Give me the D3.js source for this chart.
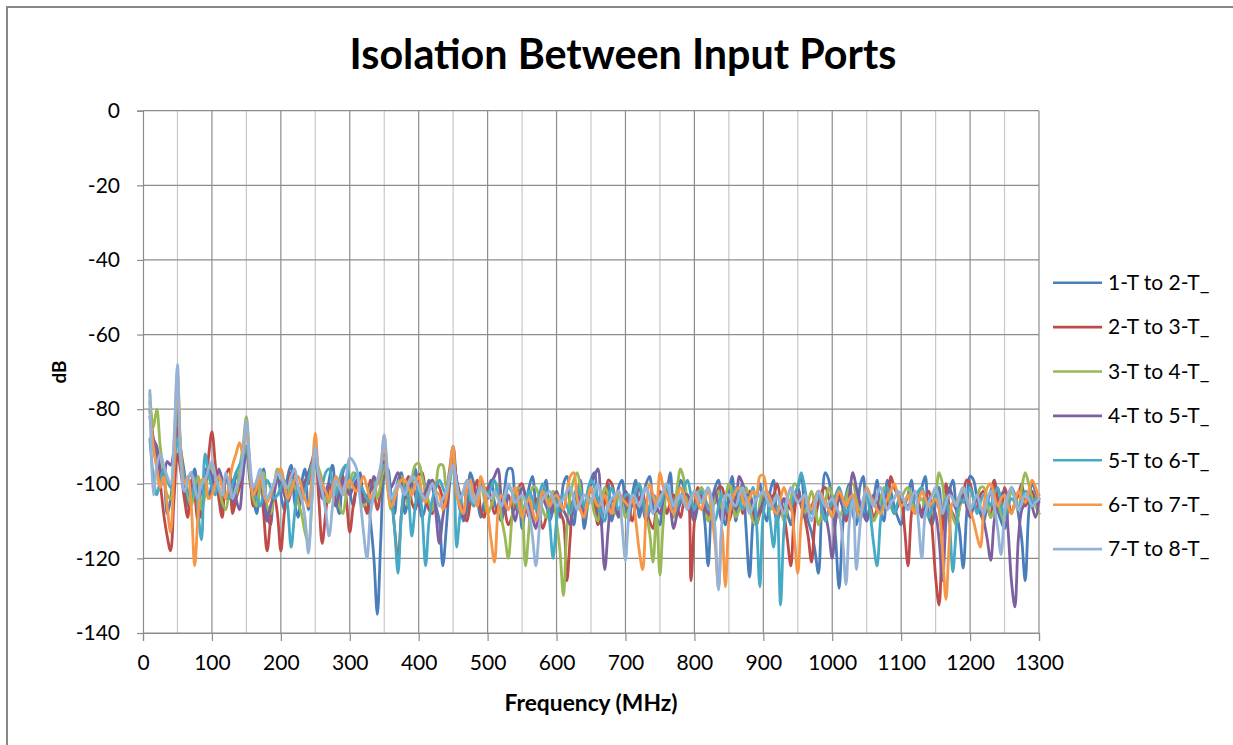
<!DOCTYPE html>
<html><head><meta charset="utf-8">
<script src="https://cdn.jsdelivr.net/npm/d3@7"></script>
<style>body{margin:0;background:#fff}svg{display:block}</style>
</head><body>
<script>
const title = "Isolation Between Input Ports";
const xTitle = "Frequency (MHz)";
const yTitle = "dB";
const seriesNames = ["1-T to 2-T_","2-T to 3-T_","3-T to 4-T_","4-T to 5-T_","5-T to 6-T_","6-T to 7-T_","7-T to 8-T_"];
const seriesColors = ["#4A7EBB","#BE4B48","#98B954","#7D60A0","#46AAC5","#F79646","#95B3D7"];
const xTicks = [0,100,200,300,400,500,600,700,800,900,1000,1100,1200,1300];
const yTicks = [0,-20,-40,-60,-80,-100,-120,-140];
// frequencies: 5 MHz steps, 10..1300 (first row 10..100, then 105..200, ...)
const freqs = d3.range(10, 1301, 5);

const s1 = [
-78,-88,-92,-101,-98,-108,-104,-95,-80,-91,-97,-106,-101,-96,-105,-109,-96,-104,-100,
-97,-103,-107,-98,-101,-106,-97,-100,-96,-90,-99,-104,-108,-99,-96,-108,-111,-101,-98,-103,
-107,-98,-95,-105,-109,-100,-96,-107,-101,-92,-97,-101,-106,-99,-95,-104,-108,-97,-95,-102,
-106,-100,-97,-106,-103,-110,-120,-135,-115,-98,-96,-103,-108,-99,-97,-108,-104,-100,-96,-104,
-109,-106,-99,-101,-106,-110,-122,-112,-100,-94,-99,-103,-110,-107,-97,-100,-104,-109,-105,-102,
-99,-105,-108,-110,-101,-96,-96,-107,-103,-112,-106,-101,-98,-106,-110,-103,-99,-110,-107,-104,
-109,-100,-98,-107,-111,-103,-99,-112,-106,-99,-97,-108,-111,-104,-100,-110,-106,-101,-99,-106,
-110,-103,-99,-109,-104,-100,-98,-106,-109,-111,-104,-102,-97,-107,-103,-99,-101,-105,-108,-110,
-106,-104,-110,-122,-106,-101,-99,-108,-111,-103,-98,-110,-104,-100,-112,-125,-110,-104,-100,-107,
-110,-102,-99,-109,-106,-104,-108,-111,-103,-101,-98,-106,-110,-113,-118,-124,-106,-97,-99,-105,
-115,-128,-112,-103,-100,-108,-111,-101,-98,-110,-106,-104,-99,-107,-110,-99,-102,-106,-109,-111,
-106,-103,-99,-108,-104,-101,-98,-109,-111,-105,-101,-112,-107,-102,-99,-107,-113,-122.6,-108,-98,
-99,-104,-108,-110,-105,-102,-99,-107,-110,-112,-106,-101,-103,-108,-115,-126,-108,-100,-102,-105];
const s2 = [
-80,-90,-95,-100,-108,-114,-118,-104,-92,-97,-104,-109,-99,-103,-110,-106,-102,-93,-86,
-95,-104,-109,-98,-96,-108,-104,-101,-96,-90,-97,-106,-102,-100,-108,-118,-110,-103,-108,-118,
-108,-102,-97,-97,-103,-105,-99,-100,-96,-93,-104,-116,-108,-101,-100,-106,-102,-98,-104,-113,
-106,-101,-99,-104,-108,-99,-102,-107,-101,-92,-98,-103,-112,-120,-108,-101,-98,-105,-107,-98,
-97,-103,-107,-108,-100,-101,-104,-106,-98,-93,-99,-104,-108,-110,-105,-102,-99,-107,-109,-101,
-104,-108,-106,-103,-107,-111,-109,-105,-101,-100,-104,-109,-107,-104,-108,-112,-109,-106,-103,-108,
-108,-110,-126,-114,-104,-104,-107,-109,-104,-101,-105,-111,-108,-105,-99,-100,-104,-108,-106,-103,
-107,-110,-106,-104,-103,-107,-110,-112,-106,-102,-104,-108,-105,-103,-106,-109,-105,-104,-126,-110,
-101,-103,-107,-109,-106,-105,-101,-101,-106,-110,-107,-104,-102,-108,-105,-102,-108,-111,-108,-106,
-102,-104,-103,-100,-104,-108,-115,-122,-108,-103,-106,-109,-114,-121,-110,-105,-102,-101,-104,-107,
-105,-103,-106,-110,-107,-105,-104,-108,-105,-102,-105,-109,-107,-104,-102,-107,-98,-101,-103,-104,
-112,-122,-108,-103,-105,-108,-104,-102,-112,-125,-132.5,-112,-100,-106,-108,-110,-106,-103,-99,-100,
-104,-107,-103,-102,-106,-109,-99,-104,-107,-101,-104,-108,-105,-103,-100,-106,-104,-102,-105,-108];
const s3 = [
-76,-85,-80,-90,-97,-103,-104,-90,-72,-92,-99,-103,-106,-101,-98,-107,-103,-97,-95,
-98,-101,-105,-107,-102,-99,-103,-96,-90,-82,-95,-104,-106,-100,-97,-106,-108,-102,-96,-98,
-102,-104,-99,-100,-105,-108,-113,-116,-105,-94,-96,-99,-104,-105,-99,-101,-106,-108,-103,-100,
-97,-98,-103,-106,-104,-101,-99,-104,-100,-93,-101,-107,-103,-100,-98,-103,-106,-99,-95,-94.5,
-98,-102,-105,-107,-101,-95,-95,-101,-99,-95,-100,-104,-102,-99,-103,-106,-104,-100,-104,-108,
-106,-103,-100,-109,-114,-120,-110,-102,-101,-106,-122,-112,-101,-101,-104,-107,-109,-104,-102,-110,
-118,-130,-112,-103,-99,-97,-102,-108,-106,-104,-108,-110,-105,-101,-103,-106,-108,-103,-105,-109,
-107,-105,-102,-100,-104,-108,-113,-121,-108,-124.5,-110,-103,-105,-109,-101,-96,-99,-104,-106,-107,
-104,-101,-103,-110,-108,-104,-102,-107,-104,-100,-103,-109,-107,-103,-101,-106,-110,-111,-105,-102,
-104,-107,-105,-103,-106,-110,-107,-104,-100,-101,-105,-108,-105,-102,-106,-111,-108,-105,-101,-103,
-106,-109,-107,-104,-101,-100,-104,-107,-105,-103,-107,-110,-108,-105,-101,-102,-106,-108,-106,-104,
-102,-101,-104,-107,-105,-104,-107,-109,-106,-103,-97,-100,-106,-106,-109,-111,-106,-102,-105,-108,
-106,-104,-101,-101,-105,-109,-107,-105,-108,-110,-106,-102,-104,-107,-101,-97,-100,-104,-106,-108];
const s4 = [
-82,-88,-90,-96,-99,-94,-95,-91,-85,-95,-101,-99,-97,-101,-104,-102,-100,-96,-98,
-101,-96,-99,-104,-102,-99,-104,-107,-98,-91,-97,-102,-100,-98,-104,-110,-106,-103,-99,-100,
-103,-105,-102,-99,-101,-103,-100,-97,-94,-91,-99,-104,-102,-100,-103,-106,-102,-99,-101,-103,
-101,-99,-102,-105,-104,-102,-98,-100,-97,-94,-99,-101,-99,-97,-100,-104,-102,-100,-103,-106,
-104,-102,-100,-99,-108,-116,-109,-103,-96,-90,-100,-107,-109,-101,-103,-105,-102,-99,-101,-104,
-100,-98,-96,-104,-108,-103,-106,-110,-105,-101,-103,-106,-109,-112,-107,-104,-106,-108,-105,-102,
-105,-107,-109,-111,-106,-103,-105,-108,-104,-100,-98,-96,-110,-123,-112,-104,-106,-109,-105,-102,
-104,-106,-103,-101,-106,-110,-107,-104,-106,-108,-104,-100,-106,-112,-108,-105,-103,-103,-106,-109,
-106,-104,-106,-108,-105,-102,-106,-110,-107,-105,-104,-107,-98,-100,-103,-103,-106,-109,-107,-105,
-104,-103,-106,-110,-107,-104,-105,-107,-104,-101,-105,-109,-108,-106,-104,-102,-104,-108,-113,-120,
-110,-104,-106,-109,-103,-97,-101,-105,-108,-110,-106,-103,-105,-107,-104,-101,-104,-108,-106,-104,
-105,-106,-104,-102,-105,-109,-106,-104,-106,-108,-115,-126,-110,-101,-104,-107,-105,-103,-106,-109,
-106,-104,-107,-110,-115,-120.5,-110,-105,-103,-102,-112,-126,-133,-115,-107,-105,-103,-106,-109,-104];
const s5 = [
-88,-98,-103,-99,-96,-99,-101,-95,-88,-94,-99,-102,-104,-100,-108,-115,-92,-97,-101,
-103,-98,-100,-103,-104,-100,-97,-95,-93,-90,-98,-102,-104,-106,-102,-99,-101,-104,-103,-101,
-99,-106,-117,-108,-101,-104,-102,-99,-95,-95,-98,-100,-97,-96,-100,-103,-99,-96,-95,-100,
-99,-97,-100,-102,-104,-105,-102,-99,-97,-95,-99,-103,-112,-124,-108,-101,-104,-114,-106,-100,
-108,-122,-110,-104,-101,-99,-101,-103,-98,-94,-117,-108,-102,-102,-104,-106,-103,-100,-101,-103,
-101,-99,-103,-106,-104,-101,-102,-104,-107,-109,-105,-102,-104,-107,-103,-100,-103,-110,-120,-110,
-104,-103,-106,-108,-104,-101,-103,-106,-102,-99,-101,-104,-108,-110,-105,-101,-104,-107,-105,-103,
-103,-105,-102,-100,-104,-109,-106,-103,-104,-106,-103,-101,-104,-108,-106,-104,-101,-99,-103,-107,
-104,-102,-104,-106,-108,-110,-106,-103,-105,-108,-104,-101,-104,-107,-105,-104,-101,-110,-127.6,-108,
-104,-110,-117,-106,-132.5,-112,-104,-106,-103,-101,-97,-101,-106,-108,-104,-103,-107,-110,-107,-105,
-103,-101,-104,-108,-106,-104,-107,-110,-106,-103,-108,-116,-122,-110,-103,-101,-104,-108,-105,-103,
-105,-107,-105,-104,-102,-101,-105,-109,-106,-103,-105,-108,-104,-110,-123.6,-112,-104,-105,-103,-101,
-104,-108,-105,-103,-104,-106,-103,-101,-105,-109,-106,-104,-105,-107,-104,-102,-103,-105,-104,-103];
const s6 = [
-80,-90,-96,-101,-98,-106,-113,-95,-70,-92,-100,-98,-106,-122,-108,-99,-99,-104,-103,
-100,-98,-101,-104,-100,-95,-92,-89,-92,-84,-96,-103,-101,-98,-102,-105,-103,-100,-97,-96,
-100,-104,-102,-99,-98,-101,-104,-106,-98,-86.5,-97,-100,-102,-104,-101,-98,-100,-103,-101,-99,
-101,-102,-100,-98,-101,-104,-102,-100,-96,-87,-101,-106,-104,-101,-99,-99,-101,-103,-100,-98,
-103,-105,-102,-100,-102,-103,-107,-104,-97,-90,-103,-106,-108,-101,-99,-104,-106,-98,-101,-107,
-115,-121,-108,-103,-105,-107,-104,-101,-105,-109,-106,-104,-107,-110,-106,-102,-104,-106,-104,-103,
-105,-107,-102,-98,-97,-104,-107,-109,-104,-101,-104,-106,-105,-103,-106,-108,-104,-102,-104,-105,
-106,-104,-110,-118,-123,-108,-100,-103,-106,-97,-101,-103,-106,-108,-104,-101,-103,-106,-104,-103,
-105,-107,-104,-102,-108,-116,-128,-112,-127.6,-110,-104,-102,-101,-104,-106,-104,-102,-103,-98,-97.7,
-102,-104,-107,-108,-104,-101,-104,-106,-114,-124,-110,-103,-105,-107,-104,-102,-103,-105,-107,-109,
-105,-102,-104,-106,-104,-103,-106,-109,-105,-101,-103,-105,-107,-108,-106,-104,-102,-100,-103,-106,
-105,-103,-106,-108,-105,-102,-104,-106,-105,-104,-107,-118,-131,-115,-105,-105,-103,-101,-104,-107,
-110,-114,-117,-106,-101,-100,-103,-106,-104,-103,-106,-108,-105,-102,-104,-105,-102,-99,-101,-104];
const s7 = [
-75,-103,-95,-92,-95,-98,-100,-88,-68,-95,-102,-99,-97,-101,-104,-100,-99,-96,-94,
-98,-101,-103,-97,-100,-104,-101,-99,-92,-83,-94,-101,-99,-96,-100,-104,-102,-100,-97,-98,
-100,-101,-98,-96,-101,-104,-109,-118.6,-104,-90,-98,-102,-107,-114,-106,-99,-101,-103,-98,-93,
-94,-96,-104,-113,-120,-108,-103,-99,-95,-87,-97,-104,-102,-100,-101,-103,-100,-98,-99,-101,
-103,-104,-102,-100,-103,-106,-104,-102,-98,-95,-100,-104,-102,-99,-102,-105,-103,-101,-102,-103,
-104,-102,-104,-106,-103,-100,-102,-105,-104,-103,-105,-108,-114,-122,-112,-104,-103,-102,-104,-106,
-105,-104,-102,-101,-104,-107,-105,-103,-104,-105,-102,-100,-104,-108,-106,-104,-103,-102,-111,-120.5,
-108,-103,-104,-106,-103,-101,-104,-108,-106,-104,-102,-100,-103,-106,-104,-103,-105,-107,-104,-102,
-103,-105,-103,-101,-104,-112,-128.5,-110,-103,-103,-105,-106,-103,-101,-104,-108,-106,-104,-103,-102,
-104,-106,-105,-103,-106,-108,-104,-101,-103,-105,-104,-103,-107,-110,-106,-102,-104,-106,-105,-104,
-106,-108,-115,-127,-110,-104,-123,-112,-104,-102,-104,-106,-103,-101,-104,-107,-105,-104,-102,-103,
-105,-107,-104,-102,-110,-120,-108,-105,-103,-101,-104,-108,-105,-103,-104,-106,-103,-101,-104,-107,
-105,-103,-106,-108,-104,-102,-106,-112,-119,-108,-103,-101,-104,-107,-105,-103,-104,-106,-105,-104];
const seriesValues = [s1,s2,s3,s4,s5,s6,s7];

const W = 1233, H = 745;
const svg = d3.select("body").append("svg").attr("width", W).attr("height", H);
svg.append("rect").attr("width", W).attr("height", H).attr("fill", "#fff");
svg.append("path").attr("d", `M7,${H} L7,7 L${W},7`).attr("fill","none").attr("stroke","#878787").attr("stroke-width",2);

const x = d3.scaleLinear().domain([0,1300]).range([143,1039]);
const y = d3.scaleLinear().domain([-140,0]).range([633,110.7]);
const font = "Lato, 'Open Sans', sans-serif";
const gridCol = "#8c8c8c", minorCol = "#c8c8c8";

const g = svg.append("g");
g.selectAll(".vmin").data(d3.range(50,1300,100)).join("line")
  .attr("x1",d=>x(d)).attr("x2",d=>x(d)).attr("y1",y(0)).attr("y2",y(-140))
  .attr("stroke",minorCol).attr("stroke-width",1.2);
g.selectAll(".vmaj").data(xTicks.slice(1)).join("line")
  .attr("x1",d=>x(d)).attr("x2",d=>x(d)).attr("y1",y(0)).attr("y2",y(-140))
  .attr("stroke",gridCol).attr("stroke-width",1.2);
g.selectAll(".h").data(yTicks).join("line")
  .attr("x1",x(0)).attr("x2",x(1300)).attr("y1",d=>y(d)).attr("y2",d=>y(d))
  .attr("stroke",gridCol).attr("stroke-width",1.2);

const yAxis = svg.append("g").attr("transform",`translate(${x(0)},0)`)
  .call(d3.axisLeft(y).tickValues(yTicks).tickSize(6).tickPadding(17).tickFormat(d=>d));
const xAxis = svg.append("g").attr("transform",`translate(0,${y(-140)})`)
  .call(d3.axisBottom(x).tickValues(xTicks).tickSize(8).tickPadding(14).tickFormat(d=>d));
[xAxis,yAxis].forEach(a=>{
  a.select(".domain").attr("stroke","#8c8c8c").attr("stroke-width",1.2);
  a.selectAll(".tick line").attr("stroke","#8c8c8c").attr("stroke-width",1.2);
  a.selectAll("text").attr("font-family",font).attr("font-size",21).attr("fill","#000");
});

const line = d3.line().defined((d,i)=>freqs[i]!==undefined)
  .x((d,i)=>x(freqs[i])).y(d=>y(d)).curve(d3.curveCatmullRom.alpha(0.5));
svg.append("g").selectAll("path").data(seriesValues).join("path")
  .attr("d", d=>line(d)).attr("fill","none")
  .attr("stroke",(d,i)=>seriesColors[i]).attr("stroke-width",2.8)
  .attr("stroke-linejoin","round").attr("stroke-linecap","round");

function fit(sel, target){
  const w = sel.node().getComputedTextLength();
  const fs = parseFloat(sel.attr("font-size"));
  sel.attr("font-size", fs*target/w);
}
const t = svg.append("text").attr("x",623).attr("y",69).attr("text-anchor","middle")
  .attr("font-family",font).attr("font-weight","bold").attr("font-size",34).text(title);
fit(t, 547);
const xt = svg.append("text").attr("x",591).attr("y",711).attr("text-anchor","middle")
  .attr("font-family",font).attr("font-weight","bold").attr("font-size",20).text(xTitle);
fit(xt, 173);
svg.append("text").attr("transform","translate(66,372) rotate(-90)").attr("text-anchor","middle")
  .attr("font-family",font).attr("font-weight","bold").attr("font-size",19).text(yTitle);

const leg = svg.append("g").selectAll("g").data(seriesNames).join("g")
  .attr("transform",(d,i)=>`translate(1053,${282.7+i*44.4})`);
leg.append("line").attr("x1",0).attr("x2",49).attr("stroke",(d,i)=>seriesColors[i]).attr("stroke-width",2.6);
leg.append("text").attr("x",55).attr("dy","0.35em").attr("font-family",font).attr("font-size",21)
  .attr("fill","#000").text(d=>d);
</script>
</body></html>
